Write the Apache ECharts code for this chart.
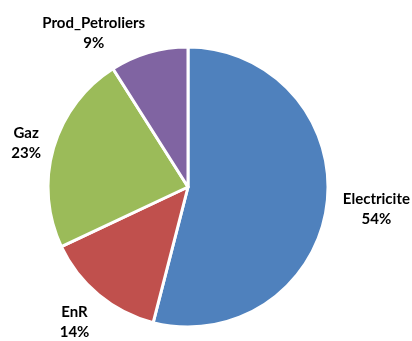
<!DOCTYPE html>
<html><head><meta charset="utf-8">
<script src="https://cdn.jsdelivr.net/npm/echarts@6/dist/echarts.min.js"></script>
<style>html,body{margin:0;padding:0;background:#fff}#c{width:412px;height:341px}</style>
</head><body><div id="c"></div>
<script>
const categories = ['Electricite', 'EnR', 'Gaz', 'Prod_Petroliers'];
const values = [54, 14, 23, 9];
const colors = ['#4F81BD', '#C0504D', '#9BBB59', '#8064A2'];
// label nudges (style only)
const labelNudge = {Electricite: [1, 3], EnR: [2, 20], Gaz: [2, -2], Prod_Petroliers: [4, -10]};

const chart = echarts.init(document.getElementById('c'), null, {renderer: 'canvas'});
chart.setOption({
  animation: false,
  series: [{
    type: 'pie',
    center: [188, 187],
    radius: 140,
    startAngle: 90,
    clockwise: true,
    avoidLabelOverlap: false,
    data: categories.map((n, i) => ({name: n, value: values[i], itemStyle: {color: colors[i]}})),
    itemStyle: {borderColor: '#fff', borderWidth: 3},
    label: {
      show: true,
      position: 'outside',
      formatter: '{b}\n{d}%',
      fontFamily: 'Lato',
      fontWeight: 'bold',
      fontSize: 15,
      lineHeight: 20,
      color: '#000'
    },
    labelLine: {show: false, length: 10, length2: 0},
    labelLayout: function (p) {
      const r = p.labelRect;
      const n = labelNudge[categories[p.dataIndex]] || [0, 0];
      return {x: r.x + r.width / 2 + n[0], y: r.y + r.height / 2 + n[1], align: 'center', verticalAlign: 'middle'};
    }
  }]
});
</script></body></html>
